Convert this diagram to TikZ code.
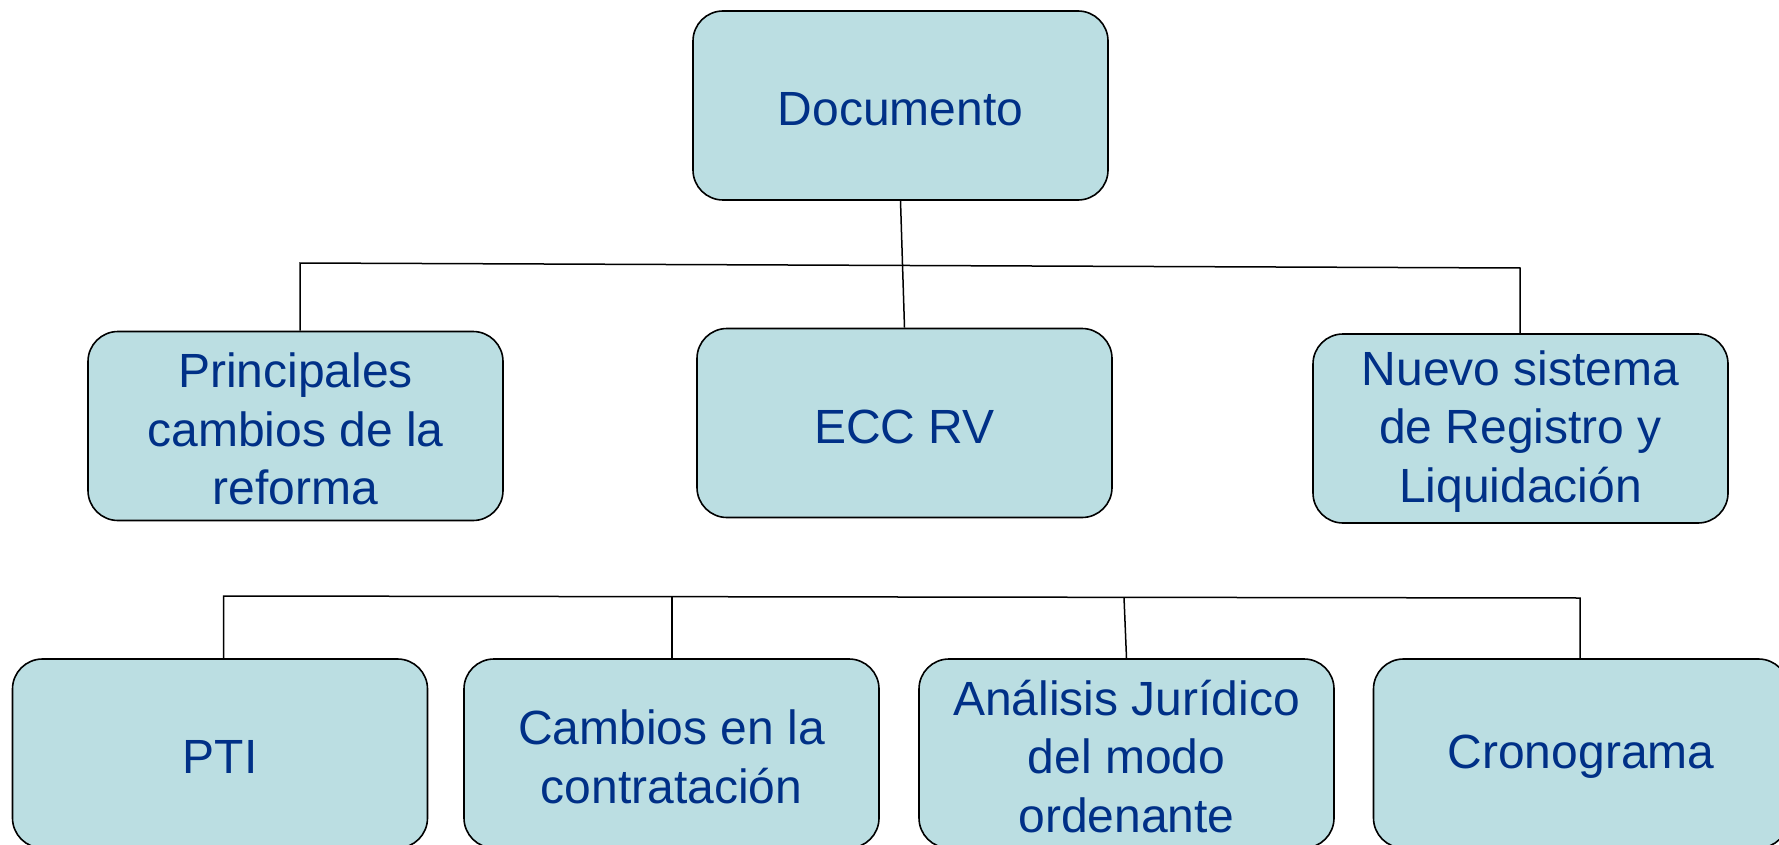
\documentclass[tikz,border=0pt]{standalone}
\usepackage{fontspec}
\setmainfont{Liberation Sans}
\definecolor{boxfill}{RGB}{187,222,226}
\definecolor{boxtext}{RGB}{0,48,135}
\tikzset{
  card/.style={draw=black, line width=1.6pt, fill=boxfill, rounded corners=30pt,
    minimum width=415pt, minimum height=189pt, inner sep=0pt},
  cardtext/.style={inner sep=0pt, align=center, text=boxtext,
    font=\fontsize{48}{58.5}\selectfont},
  link/.style={draw=black, line width=1.5pt}
}
\begin{document}
\begin{tikzpicture}[x=1pt,y=-1pt]
\useasboundingbox (0,0) rectangle (1779,845);
\clip (0,0) rectangle (1779,845);
\node[card] (doc) at (900.5,105.5) {};
\node[card] (prin) at (295.5,426) {};
\node[card] (ecc) at (904.5,423) {};
\node[card] (nuevo) at (1520.5,428.5) {};
\node[card] (pti) at (220,753.5) {};
\node[card] (camb) at (671.5,753.5) {};
\node[card] (anal) at (1126.5,753.5) {};
\node[card] (cron) at (1581,753.5) {};
\node[cardtext] (tdoc) at ([yshift=-3.5pt]doc.center) {Documento};
\node[cardtext] (tprin) at ([yshift=-3pt]prin.center) {Principales\\cambios de la\\reforma};
\node[cardtext] (tecc) at ([yshift=-3.5pt]ecc.center) {ECC RV};
\node[cardtext] (tnuevo) at ([yshift=-3pt]nuevo.center) {Nuevo sistema\\de Registro y\\Liquidación};
\node[cardtext] (tpti) at ([yshift=-3.5pt]pti.center) {PTI};
\node[cardtext] (tcamb) at ([yshift=-3.5pt]camb.center) {Cambios en la\\contratación};
\node[cardtext] (tanal) at ([yshift=-3pt]anal.center) {Análisis Jurídico\\del modo\\ordenante};
\node[cardtext] (tcron) at ([yshift=-3.5pt]cron.center) {Cronograma};
\coordinate (t1) at (300,263);
\coordinate (t2) at (1520,268);
\draw[link] (doc.south) -- (ecc.north);
\draw[link] (t1 |- prin.north) -- (t1) -- (t2) -- (t2 |- nuevo.north);
\coordinate (b1) at (223.5,596);
\coordinate (b2) at (672,596.7);
\coordinate (b3) at (1124,597.3);
\coordinate (b4) at (1580,598);
\draw[link] (b1 |- pti.north) -- (b1) -- (b4) -- (b4 |- cron.north);
\draw[link] (b2) -- (b2 |- camb.north);
\draw[link] (b3) -- (anal.north);
\end{tikzpicture}
\end{document}
